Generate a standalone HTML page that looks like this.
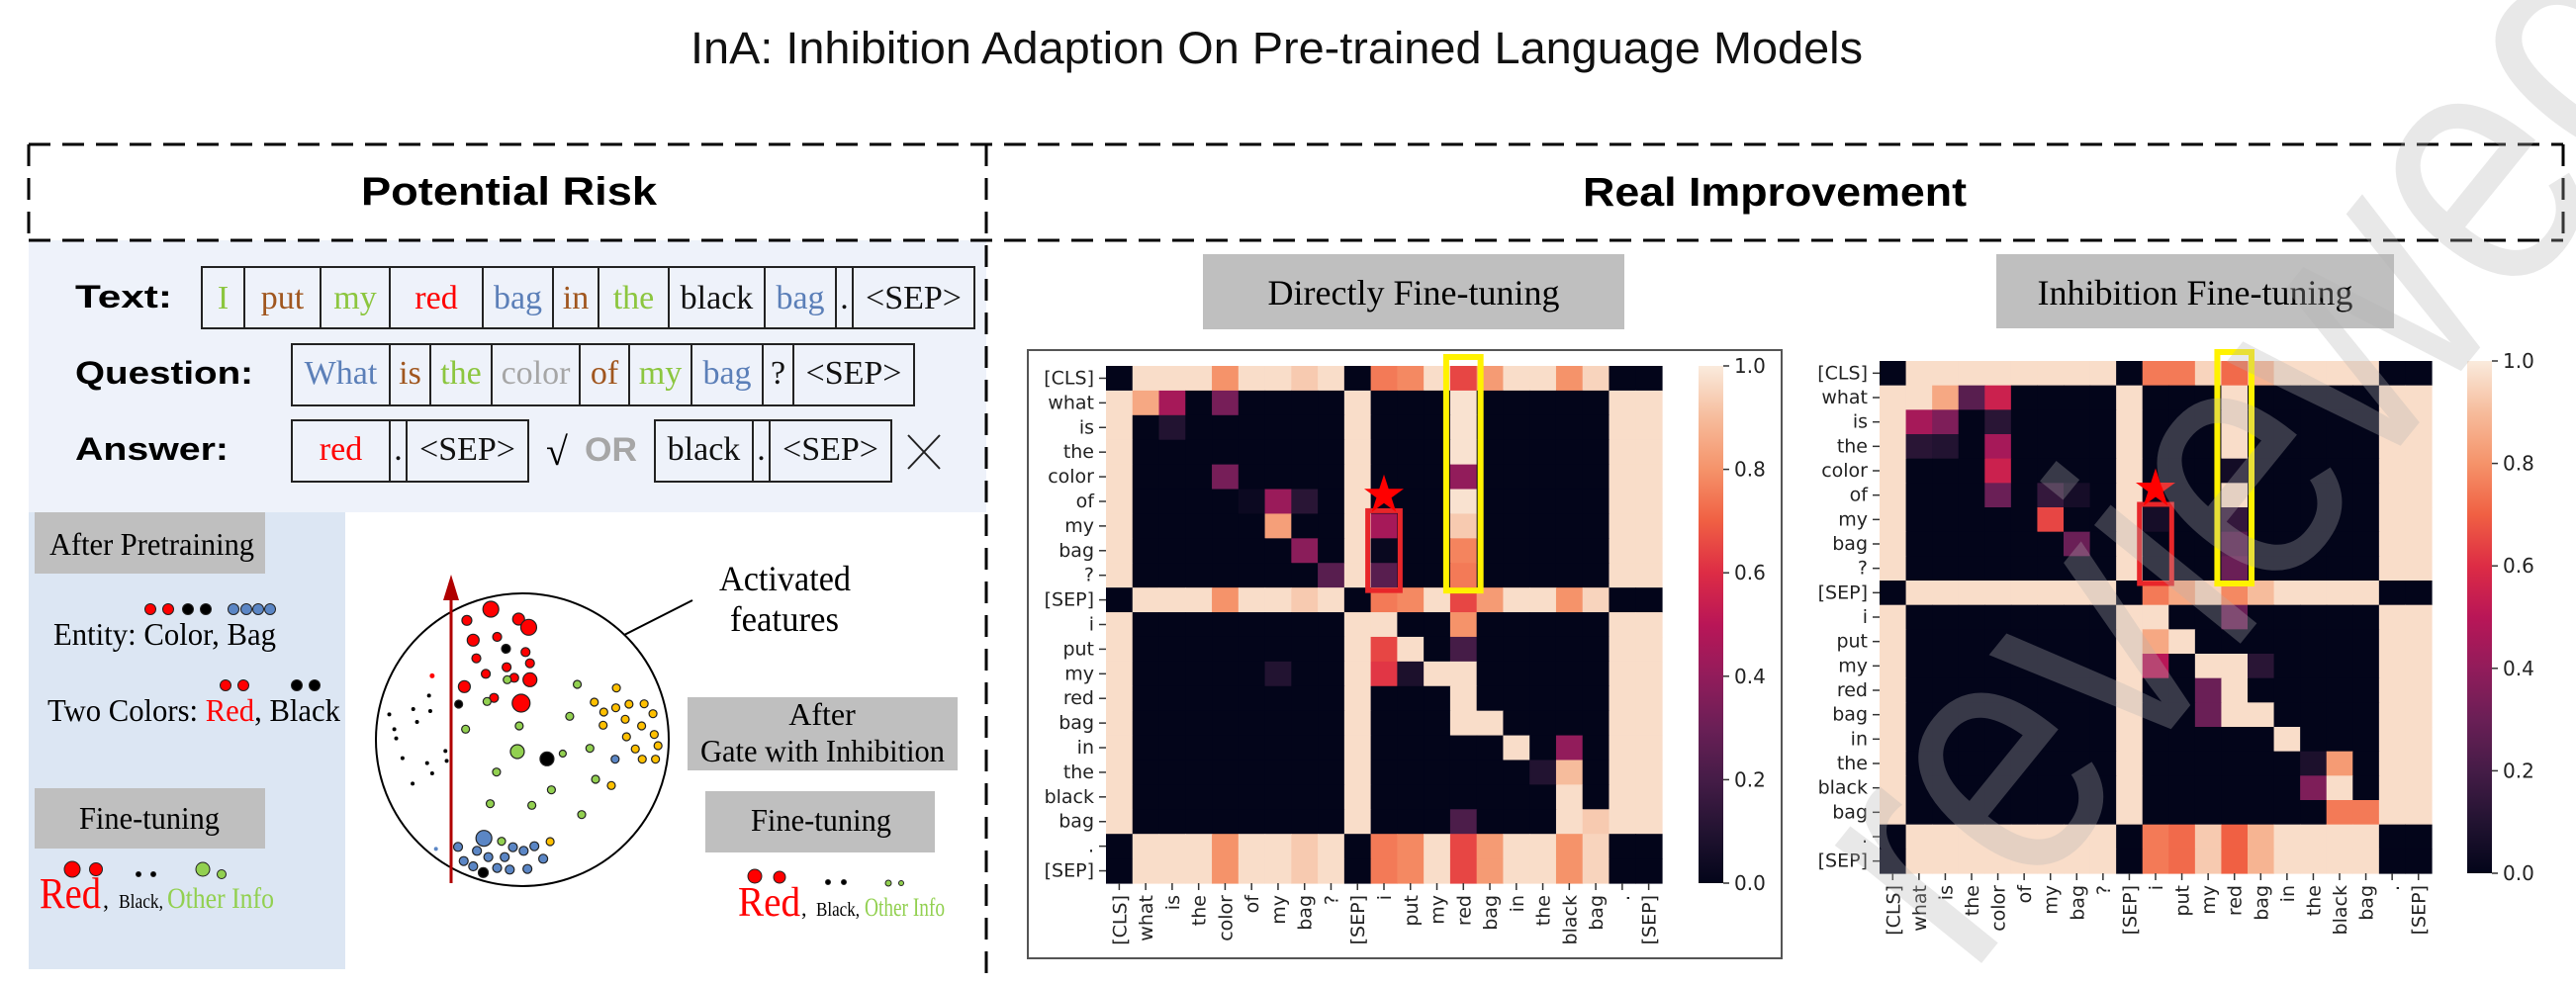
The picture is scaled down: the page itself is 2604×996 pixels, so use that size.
<!DOCTYPE html>
<html><head><meta charset="utf-8">
<style>
html,body{margin:0;padding:0;background:#fff;width:2604px;height:996px;overflow:hidden;}
svg{display:block;overflow:hidden;}
.serif{font-family:"Liberation Serif",serif;}
.sans{font-family:"Liberation Sans",sans-serif;}
.dv{font-family:"DejaVu Sans","Liberation Sans",sans-serif;}
</style></head>
<body>
<svg id="fig" width="2604" height="996" viewBox="0 0 2604 996" xmlns="http://www.w3.org/2000/svg">
<defs>
<linearGradient id="rocket" x1="0" y1="1" x2="0" y2="0">
<stop offset="0" stop-color="#03051A"/><stop offset="0.1" stop-color="#221331"/><stop offset="0.2" stop-color="#451C47"/>
<stop offset="0.3" stop-color="#6A1F56"/><stop offset="0.4" stop-color="#921C5B"/><stop offset="0.5" stop-color="#B91657"/>
<stop offset="0.6" stop-color="#DD2C45"/><stop offset="0.7" stop-color="#F06043"/><stop offset="0.8" stop-color="#F5936A"/>
<stop offset="0.9" stop-color="#F6BC9C"/><stop offset="1" stop-color="#FAEBDD"/>
</linearGradient>
<clipPath id="pageclip"><rect x="0" y="0" width="2604" height="996"/></clipPath>
</defs>

<text class="sans" x="698" y="64" font-size="45" textLength="1185" lengthAdjust="spacingAndGlyphs" fill="#111">InA: Inhibition Adaption On Pre-trained Language Models</text>

<rect x="29" y="243" width="968" height="275" fill="#EEF2FA"/>
<rect x="29" y="518" width="320" height="462" fill="#DCE6F3"/>

<g stroke="#000" stroke-width="3" stroke-dasharray="22 12" fill="none">
<line x1="29" y1="146" x2="2591" y2="146"/>
<line x1="29" y1="243" x2="2591" y2="243"/>
<line x1="29" y1="146" x2="29" y2="243"/>
<line x1="2591" y1="146" x2="2591" y2="243"/>
<line x1="997" y1="146" x2="997" y2="994"/>
</g>
<text class="sans" x="365" y="207" font-size="40" font-weight="bold" textLength="299" lengthAdjust="spacingAndGlyphs">Potential Risk</text>
<text class="sans" x="1600" y="208" font-size="41" font-weight="bold" textLength="388" lengthAdjust="spacingAndGlyphs">Real Improvement</text>

<g id="rows" class="serif" font-size="34"></g>
<text class="sans" x="76" y="311" font-size="32" font-weight="bold" textLength="98" lengthAdjust="spacingAndGlyphs">Text:</text>
<text class="sans" x="76" y="388" font-size="32" font-weight="bold" textLength="180" lengthAdjust="spacingAndGlyphs">Question:</text>
<text class="sans" x="76" y="465" font-size="32" font-weight="bold" textLength="155" lengthAdjust="spacingAndGlyphs">Answer:</text>
<text class="serif" x="552" y="470" font-size="40">√</text>
<text class="sans" x="591" y="466" font-size="34" font-weight="bold" fill="#A6A6A6" textLength="53" lengthAdjust="spacingAndGlyphs">OR</text>
<g stroke="#222" stroke-width="2"><line x1="918" y1="440" x2="950" y2="474"/><line x1="950" y1="440" x2="918" y2="474"/></g>

<rect x="35" y="518" width="233" height="62" fill="#BFBFBF"/>
<text class="serif" x="50" y="561" font-size="32" textLength="207" lengthAdjust="spacingAndGlyphs">After Pretraining</text>
<text class="serif" x="54" y="652" font-size="32" textLength="225" lengthAdjust="spacingAndGlyphs">Entity: Color, Bag</text>
<text class="serif" x="48" y="729" font-size="32" textLength="296" lengthAdjust="spacingAndGlyphs">Two Colors: <tspan fill="#FF0000">Red</tspan>, Black</text>
<rect x="35" y="797" width="233" height="61" fill="#BFBFBF"/>
<text class="serif" x="80" y="838" font-size="32" textLength="142" lengthAdjust="spacingAndGlyphs">Fine-tuning</text>
<text class="serif" x="40" y="918" font-size="44" fill="#FF0000" textLength="62" lengthAdjust="spacingAndGlyphs">Red</text>
<text class="serif" x="104" y="918" font-size="24">,</text>
<text class="serif" x="120" y="918" font-size="20" textLength="45" lengthAdjust="spacingAndGlyphs">Black,</text>
<text class="serif" x="169" y="918" font-size="30" fill="#92D050" textLength="108" lengthAdjust="spacingAndGlyphs">Other Info</text>

<g id="legendDots"></g>

<circle cx="528" cy="748" r="148" fill="none" stroke="#000" stroke-width="2"/>
<g id="featDots"></g>
<line x1="456" y1="893" x2="456" y2="600" stroke="#B00000" stroke-width="3"/>
<polygon points="456,581 448,607 464,607" fill="#B00000"/>
<line x1="631" y1="642" x2="700" y2="607" stroke="#000" stroke-width="2"/>
<text class="serif" x="727" y="597" font-size="36" textLength="133" lengthAdjust="spacingAndGlyphs">Activated</text>
<text class="serif" x="738" y="638" font-size="36" textLength="110" lengthAdjust="spacingAndGlyphs">features</text>
<rect x="695" y="705" width="273" height="74" fill="#BFBFBF"/>
<text class="serif" x="831" y="733" font-size="32" text-anchor="middle">After</text>
<text class="serif" x="708" y="770" font-size="32" textLength="247" lengthAdjust="spacingAndGlyphs">Gate with Inhibition</text>
<rect x="713" y="800" width="232" height="62" fill="#BFBFBF"/>
<text class="serif" x="759" y="840" font-size="32" textLength="142" lengthAdjust="spacingAndGlyphs">Fine-tuning</text>
<text class="serif" x="746" y="926" font-size="42" fill="#FF0000" textLength="63" lengthAdjust="spacingAndGlyphs">Red</text>
<text class="serif" x="810" y="926" font-size="22">,</text>
<text class="serif" x="825" y="926" font-size="20" textLength="44" lengthAdjust="spacingAndGlyphs">Black,</text>
<text class="serif" x="874" y="926" font-size="26" fill="#92D050" textLength="81" lengthAdjust="spacingAndGlyphs">Other Info</text>

<rect x="1216" y="257" width="426" height="76" fill="#BFBFBF"/>
<text class="serif" x="1429" y="308" font-size="36" text-anchor="middle">Directly Fine-tuning</text>
<rect x="2018" y="257" width="402" height="75" fill="#BFBFBF"/>
<text class="serif" x="2219" y="308" font-size="36" text-anchor="middle">Inhibition Fine-tuning</text>
<rect x="1039" y="354" width="762" height="615" fill="none" stroke="#555" stroke-width="2"/>

<g id="hm1"></g>
<g id="hm2"></g>

<g clip-path="url(#pageclip)">
<text class="sans" x="0" y="0" font-size="360" fill="#B3B3B3" fill-opacity="0.3" transform="translate(1990,990) rotate(-51)" textLength="1200" lengthAdjust="spacingAndGlyphs">reviewed</text>
</g>
</svg>

<script>
const tokens = ["[CLS]","what","is","the","color","of","my","bag","?","[SEP]","i","put","my","red","bag","in","the","black","bag",".","[SEP]"];
const cbTicks = [0.0,0.2,0.4,0.6,0.8,1.0];
const cbTickLabels = ["0.0","0.2","0.4","0.6","0.8","1.0"];
const L = 0.97;
const directRows = [
[0,L,L,L,0.8,L,L,0.93,L,0,0.75,0.78,L,0.65,0.82,L,L,0.8,0.95,0,0],
[L,0.85,0.45,0,0.33,0,0,0,0,L,0,0,0,0.98,0,0,0,0,0,L,L],
[L,0,0.1,0,0,0,0,0,0,L,0,0,0,0.98,0,0,0,0,0,L,L],
[L,0,0,0,0,0,0,0,0,L,0,0,0,0.98,0,0,0,0,0,L,L],
[L,0,0,0,0.33,0,0,0,0,L,0,0,0,0.4,0,0,0,0,0,L,L],
[L,0,0,0,0,0.03,0.42,0.12,0,L,0,0,0,0.98,0,0,0,0,0,L,L],
[L,0,0,0,0,0,0.83,0,0,L,0.45,0,0,0.93,0,0,0,0,0,L,L],
[L,0,0,0,0,0,0,0.38,0,L,0.02,0,0,0.77,0,0,0,0,0,L,L],
[L,0,0,0,0,0,0,0,0.25,L,0.25,0,0,0.75,0,0,0,0,0,L,L],
[0,L,L,L,0.8,L,L,0.93,L,0,0.75,0.78,L,0.65,0.82,L,L,0.8,0.95,0,0],
[L,0,0,0,0,0,0,0,0,L,L,0,0,0.8,0,0,0,0,0,L,L],
[L,0,0,0,0,0,0,0,0,L,0.65,L,0,0.2,0,0,0,0,0,L,L],
[L,0,0,0,0,0,0.1,0,0,L,0.62,0.08,L,L,0,0,0,0,0,L,L],
[L,0,0,0,0,0,0,0,0,L,0,0,0,L,0,0,0,0,0,L,L],
[L,0,0,0,0,0,0,0,0,L,0,0,0,L,L,0,0,0,0,L,L],
[L,0,0,0,0,0,0,0,0,L,0,0,0,0,0,L,0,0.4,0,L,L],
[L,0,0,0,0,0,0,0,0,L,0,0,0,0,0,0,0.1,0.9,0,L,L],
[L,0,0,0,0,0,0,0,0,L,0,0,0,0,0,0,0,L,0,L,L],
[L,0,0,0,0,0,0,0,0,L,0,0,0,0.22,0,0,0,L,0.93,L,L],
[0,L,L,L,0.8,L,L,0.93,L,0,0.75,0.78,L,0.65,0.82,L,L,0.8,0.95,0,0],
[0,L,L,L,0.8,L,L,0.93,L,0,0.75,0.78,L,0.65,0.82,L,L,0.8,0.95,0,0]
];
const inhibRows = [
[0,L,L,L,L,L,L,L,L,0,0.75,0.75,0.95,0.72,0.88,L,L,L,L,0,0],
[L,L,0.85,0.25,0.55,0,0,0,0,L,0,0,0,0.97,0,0,0,0,0,L,L],
[L,0.45,0.35,0,0.12,0,0,0,0,L,0,0,0,0.97,0,0,0,0,0,L,L],
[L,0.12,0.1,0,0.45,0,0,0,0,L,0,0,0,0.97,0,0,0,0,0,L,L],
[L,0,0,0,0.55,0,0,0,0,L,0,0,0,0.05,0,0,0,0,0,L,L],
[L,0,0,0,0.3,0,0.15,0.06,0,L,0,0,0,0.97,0,0,0,0,0,L,L],
[L,0,0,0,0,0,0.65,0,0,L,0.06,0,0,0.15,0,0,0,0,0,L,L],
[L,0,0,0,0,0,0,0.3,0,L,0,0,0,0.25,0,0,0,0,0,L,L],
[L,0,0,0,0,0,0,0,0,L,0,0,0,0.3,0,0,0,0,0,L,L],
[0,L,L,L,L,L,L,L,L,0,0.75,0.85,0.95,0.78,0.9,L,L,L,L,0,0],
[L,0,0,0,0,0,0,0,0,L,L,0,0,0.3,0,0,0,0,0,L,L],
[L,0,0,0,0,0,0,0,0,L,0.85,L,0,0,0,0,0,0,0,L,L],
[L,0,0,0,0,0,0,0,0,L,0.5,0,L,L,0.12,0,0,0,0,L,L],
[L,0,0,0,0,0,0,0,0,L,0,0,0.3,L,0,0,0,0,0,L,L],
[L,0,0,0,0,0,0,0,0,L,0,0,0.3,L,L,0,0,0,0,L,L],
[L,0,0,0,0,0,0,0,0,L,0,0,0,0,0,L,0,0,0,L,L],
[L,0,0,0,0,0,0,0,0,L,0,0,0,0,0,0,0.08,0.82,0,L,L],
[L,0,0,0,0,0,0,0,0,L,0,0,0,0,0,0,0.35,L,0,L,L],
[L,0,0,0,0,0,0,0,0,L,0,0,0,0,0,0,0,0.75,0.75,L,L],
[0,L,L,L,L,L,L,L,L,0,0.75,0.72,0.93,0.7,0.88,L,L,L,L,0,0],
[0,L,L,L,L,L,L,L,L,0,0.75,0.72,0.93,0.7,0.88,L,L,L,L,0,0]
];

const NS = "http://www.w3.org/2000/svg";
function mk(tag, attrs, parent){const e=document.createElementNS(NS,tag);for(const k in attrs)e.setAttribute(k,attrs[k]);parent.appendChild(e);return e;}
const stops=[[3,5,26],[34,19,49],[69,28,71],[106,31,86],[146,28,91],[185,22,87],[221,44,69],[240,96,67],[245,147,106],[246,188,156],[250,235,221]];
function rocket(v){v=Math.max(0,Math.min(1,v));const p=v*10,i=Math.min(9,Math.floor(p)),t=p-i;const a=stops[i],b=stops[i+1];
return "rgb("+a.map((c,k)=>Math.round(c+(b[k]-c)*t)).join(",")+")";}

function drawHeatmap(g, rows, x0, x1, y0, y1, cbx, prefix){
  const n=tokens.length;
  const xs=j=>x0+j*(x1-x0)/n, ys=i=>y0+i*(y1-y0)/n;
  rows.forEach((row,i)=>row.forEach((v,j)=>{
    const r=mk("rect",{x:xs(j),y:ys(i),width:(x1-x0)/n+0.6,height:(y1-y0)/n+0.6,fill:rocket(v)},g);
    
    
  }));
  tokens.forEach((t,i)=>{
    const cy=ys(i+0.5);
    const tk=mk("line",{x1:x0-7,y1:cy,x2:x0,y2:cy,stroke:"#333","stroke-width":1.5},g);
    
    
    const lb=mk("text",{x:x0-12,y:cy+6,"font-size":19,"text-anchor":"end",fill:"#222","class":"dv"},g);
    lb.textContent=t;
    
    
    const cx=xs(i+0.5);
    const tx=mk("line",{x1:cx,y1:y1,x2:cx,y2:y1+7,stroke:"#333","stroke-width":1.5},g);
    
    
    const xl=mk("text",{x:0,y:0,"font-size":19,"text-anchor":"end",fill:"#222","class":"dv",transform:"translate("+(cx+7)+","+(y1+12)+") rotate(-90)"},g);
    xl.textContent=t;
    
    
  });
  const cb=mk("rect",{x:cbx,y:y0,width:25,height:y1-y0,fill:"url(#rocket)"},g);
  
  
  const cys=v=>y1-v*(y1-y0);
  cbTicks.forEach((v,k)=>{
    const t=mk("line",{x1:cbx+25,y1:cys(v),x2:cbx+31,y2:cys(v),stroke:"#333","stroke-width":1.5},g);
    
    
    const l=mk("text",{x:cbx+36,y:cys(v)+7,"font-size":20,fill:"#222","class":"dv"},g);
    l.textContent=cbTickLabels[k];
    
    
  });
  const rb=mk("rect",{x:xs(10)-3,y:ys(6)-3,width:xs(11)-xs(10)+6,height:ys(9)-ys(6)+6,fill:"none",stroke:"#E8262A","stroke-width":5},g);
  
  
  const yb=mk("rect",{x:xs(13)-4,y:ys(0)-9,width:xs(14)-xs(13)+8,height:ys(9)-ys(0)+12,fill:"none",stroke:"#FFF200","stroke-width":6},g);
  
  
  const sx=xs(10.5), sy=ys(5.25);
  let pts=[];for(let k=0;k<10;k++){const r=k%2?8:21,a=-Math.PI/2+k*Math.PI/5;pts.push((sx+r*Math.cos(a)).toFixed(1)+","+(sy+r*Math.sin(a)).toFixed(1));}
  const st=mk("polygon",{points:pts.join(" "),fill:"#FF0000"},g);
  
  
}
drawHeatmap(document.getElementById("hm1"), directRows, 1118, 1680, 370, 893, 1717, "direct-ft");
drawHeatmap(document.getElementById("hm2"), inhibRows, 1900, 2458, 365, 883, 2494, "inhibition-ft");

const rowsG=document.getElementById("rows");
function tokenRow(edges, words, colors, top, bottom, base, name){
  const f=mk("rect",{x:edges[0],y:top,width:edges[edges.length-1]-edges[0],height:bottom-top,fill:"none",stroke:"#222","stroke-width":2},rowsG);
  
  
  for(let k=1;k<edges.length-1;k++){
    const d=mk("line",{x1:edges[k],y1:top,x2:edges[k],y2:bottom,stroke:"#222","stroke-width":2},rowsG);
    
    
  }
  words.forEach((w,k)=>{
    const t=mk("text",{x:(edges[k]+edges[k+1])/2,y:base,"text-anchor":"middle",fill:colors[k]},rowsG);
    t.textContent=w;
    
    
  });
}
const G="#8CC63F",B="#5B7FB8",BR="#A0561E",R="#FF0000",K="#111",GR="#A6A6A6";
tokenRow([204,247,324,394,488,559,605,676,773,845,862,985],["I","put","my","red","bag","in","the","black","bag",".","<SEP>"],[G,BR,G,R,B,BR,G,K,B,K,K],270,332,312,"text-row");
tokenRow([295,394,435,497,586,636,699,771,802,924],["What","is","the","color","of","my","bag","?","<SEP>"],[B,BR,G,GR,BR,G,B,K,K],348,410,388,"question-row");
tokenRow([295,394,411,534],["red",".","<SEP>"],[R,K,K],425,487,465,"answer-red");
tokenRow([662,761,778,901],["black",".","<SEP>"],[K,K,K],425,487,465,"answer-black");

const lg=document.getElementById("legendDots");
const C={r:"#FF0000",k:"#000000",b:"#5B86C5",g:"#92D050",y:"#FFC000"};
const legendPts=[[152,616,5.5,"r"],[170,616,5.5,"r"],[190,616,5.5,"k"],[208,616,5.5,"k"],[236,616,5.5,"b"],[249,616,5.5,"b"],[261,616,5.5,"b"],[273,616,5.5,"b"],
[228,693,5.5,"r"],[246,693,5.5,"r"],[300,693,5.5,"k"],[318,693,5.5,"k"],
[73,879,8,"r"],[97,879,6.5,"r"],[140,884,2.5,"k"],[155,884,2.5,"k"],[205,879,7,"g"],[224,884,4.5,"g"],
[763,886,7,"r"],[788,887,6,"r"],[837,892,2.5,"k"],[853,892,2.5,"k"],[898,893,3,"g"],[911,893,2.5,"g"]];
legendPts.forEach(p=>{
  const c=mk("circle",{cx:p[0],cy:p[1],r:p[2],fill:C[p[3]],stroke:"#222","stroke-width":1},lg);
  
  
});
const fg=document.getElementById("featDots");
const feat=[[778,348,8,"r"],[740,382,5,"r"],[822,378,6,"r"],[838,403,8,"r"],[750,442,6,"r"],[788,432,4.5,"r"],[802,468,4.5,"k"],[833,478,4.5,"r"],[755,497,4.5,"r"],[840,512,4.5,"r"],[803,524,4.5,"r"],[770,544,4.5,"r"],[815,556,4.5,"r"],[840,562,7,"r"],[736,583,6,"r"],[783,617,4.5,"r"],[826,633,9,"r"],[685,550,2.5,"r"],
[804,562,4,"g"],[772,628,4,"g"],[738,712,4,"g"],[823,702,4,"g"],[903,673,4,"g"],[915,576,4,"g"],[820,780,7,"g"],[892,786,3.5,"g"],[935,770,4,"g"],[787,842,4,"g"],[944,864,4,"g"],[874,896,4,"g"],[777,938,4,"g"],[843,943,4,"g"],[922,971,4,"g"],[795,1052,4,"g"],
[727,636,4,"k"],[867,802,7,"k"],[766,1147,5,"k"],[680,610,2,"k"],[655,651,2,"k"],[682,657,2,"k"],[617,667,2,"k"],[661,690,2,"k"],[625,712,2,"k"],[628,740,2,"k"],[706,778,2,"k"],[708,808,2,"k"],[638,800,2,"k"],[677,815,2,"k"],[685,846,2,"k"],[654,877,2,"k"],[691,1075,2,"b"],
[977,587,4,"y"],[942,630,4,"y"],[976,647,4,"y"],[997,636,4,"y"],[1021,635,4,"y"],[957,660,4,"y"],[1035,665,4,"y"],[956,700,4,"y"],[991,682,4,"y"],[1017,702,4,"y"],[1037,728,4,"y"],[993,735,4,"y"],[1043,762,4,"y"],[1007,772,4,"y"],[1018,803,4,"y"],[1039,803,4,"y"],[969,883,4,"y"],[872,1053,4,"y"],
[767,1043,8,"b"],[726,1069,4.5,"b"],[756,1081,4.5,"b"],[830,1081,4.5,"b"],[847,1067,4.5,"b"],[774,1100,4.5,"b"],[800,1100,4.5,"b"],[735,1112,4.5,"b"],[861,1105,4.5,"b"],[750,1128,4.5,"b"],[788,1133,4.5,"b"],[808,1138,4.5,"b"],[836,1136,4.5,"b"],[813,1070,4.5,"b"],[975,803,4,"b"]];
feat.forEach(p=>{
  const c=mk("circle",{cx:p[0]/1.568,cy:500+p[1]/3,r:p[2],fill:C[p[3]],stroke:"#222","stroke-width":p[2]>2.5?1.2:0},fg);
  
  
});
</script>
</body></html>
